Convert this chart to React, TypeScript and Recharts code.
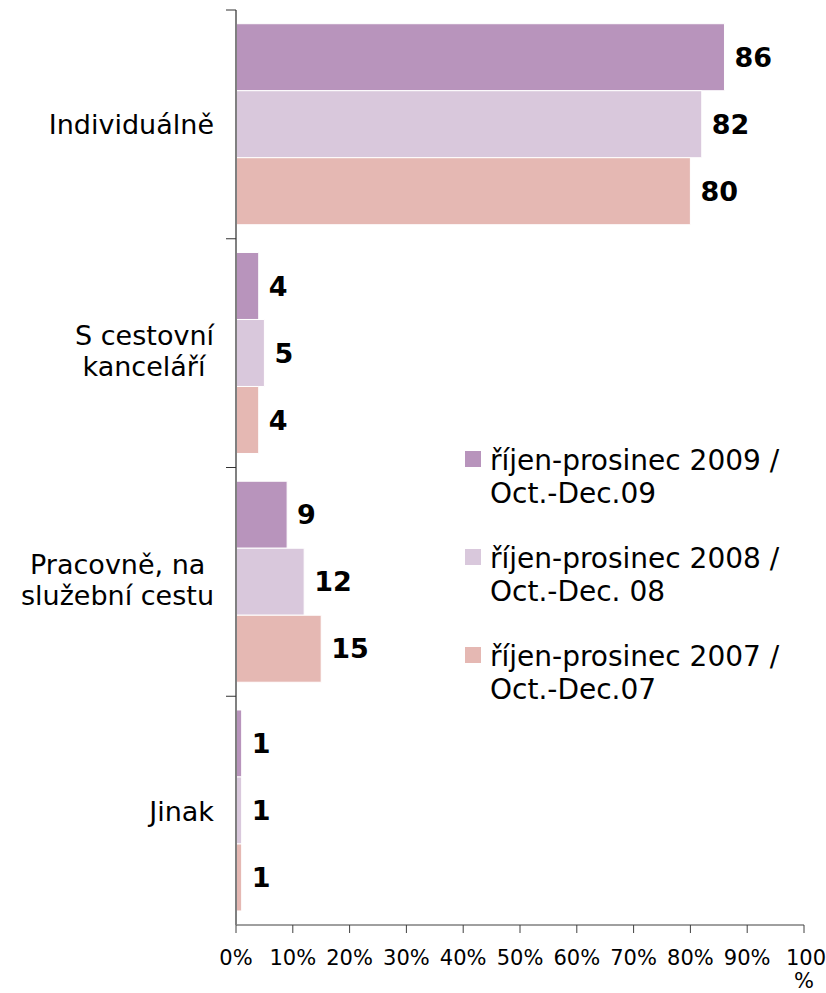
import { Bar, BarChart, LabelList, Legend, XAxis, YAxis } from "recharts";

const categories = ["Individuálně", "S cestovní kanceláří", "Pracovně, na služební cestu", "Jinak"];
const categoryLines: Record<string, string[]> = {
  "Individuálně": ["Individuálně"],
  "S cestovní kanceláří": ["S cestovní", "kanceláří\u00a0"],
  "Pracovně, na služební cestu": ["Pracovně, na\u00a0", "služební cestu"],
  "Jinak": ["Jinak"],
};

const oct_dec_2009 = [86, 4, 9, 1];
const oct_dec_2008 = [82, 5, 12, 1];
const oct_dec_2007 = [80, 4, 15, 1];

const seriesKeys = ["y2009", "y2008", "y2007"];
const seriesColors = ["#b894bc", "#d9c8dc", "#e5b8b3"];
const seriesNames = [
  ["říjen-prosinec 2009 /", "Oct.-Dec.09"],
  ["říjen-prosinec 2008 /", "Oct.-Dec. 08"],
  ["říjen-prosinec 2007 /", "Oct.-Dec.07"],
];

const xTicks = [0, 10, 20, 30, 40, 50, 60, 70, 80, 90, 100];

const W = 826;
const H = 993;
const MARGIN = { top: 10, right: 22, bottom: 0, left: 0 };
const X_AXIS_H = 68;
const BAND = (H - MARGIN.top - X_AXIS_H) / categories.length;
const FONT = "'DejaVu Sans', Verdana, sans-serif";

const data = categories.map((name, i) => ({
  name,
  y2009: oct_dec_2009[i],
  y2008: oct_dec_2008[i],
  y2007: oct_dec_2007[i],
}));

function CategoryTick({ x, y, payload }: any) {
  const lines = categoryLines[payload.value] ?? [payload.value];
  const baselines = lines.length === 1 ? [10] : [-8, 23];
  return (
    <g>
      <line x1={x - 10} x2={x} y1={y - BAND / 2} y2={y - BAND / 2} stroke="#333" strokeWidth={1} />
      <text textAnchor="end" fontFamily={FONT} fontSize={27} fill="#000">
        {lines.map((l, i) => (
          <tspan key={i} x={x - 22} y={y + baselines[i]}>
            {l}
          </tspan>
        ))}
      </text>
    </g>
  );
}

function PercentTick({ x, y, payload }: any) {
  const v = payload.value;
  if (v === 100) {
    return (
      <text textAnchor="middle" fontFamily={FONT} fontSize={21} fill="#000">
        <tspan x={x + 2} y={y + 32}>100</tspan>
        <tspan x={x} y={y + 55}>%</tspan>
      </text>
    );
  }
  return (
    <text x={x} y={y + 32} textAnchor="middle" fontFamily={FONT} fontSize={21} fill="#000">
      {v}%
    </text>
  );
}

function LegendBox() {
  return (
    <div style={{ fontFamily: FONT, fontSize: 28, lineHeight: "33px", color: "#000" }}>
      {seriesNames.map((lines, i) => (
        <div key={i} style={{ position: "relative", paddingLeft: 27, marginBottom: i < 2 ? 32 : 0 }}>
          <span
            style={{
              position: "absolute",
              left: 2,
              top: 7,
              width: 16,
              height: 16,
              background: seriesColors[i],
            }}
          />
          {lines.map((l, j) => (
            <div key={j} style={{ whiteSpace: "nowrap" }}>{l}</div>
          ))}
        </div>
      ))}
    </div>
  );
}

export default function App() {
  return (
    <div style={{ position: "absolute", left: 0, top: 0, width: W, height: H, background: "#fff" }}>
      <BarChart
        width={W}
        height={H}
        data={data}
        layout="vertical"
        margin={MARGIN}
        barCategoryGap="6%"
        barGap={0}
      >
        <XAxis
          type="number"
          domain={[0, 100]}
          ticks={xTicks}
          interval={0}
          height={X_AXIS_H}
          axisLine={{ stroke: "#404040" }}
          tickLine={{ stroke: "#404040" }}
          tickSize={8}
          tickMargin={0}
          tick={<PercentTick />}
        />
        <YAxis
          type="category"
          dataKey="name"
          width={236}
          axisLine={{ stroke: "#808080", strokeWidth: 2 }}
          tickLine={false}
          tickSize={0}
          tickMargin={0}
          interval={0}
          tick={<CategoryTick />}
        />
        <Legend
          layout="vertical"
          align="center"
          verticalAlign="middle"
          wrapperStyle={{ left: 463, top: 444, width: 360 }}
          content={() => <LegendBox />}
        />
        {seriesKeys.map((k, i) => (
          <Bar key={k} dataKey={k} fill={seriesColors[i]} stroke="#fff" strokeWidth={1} isAnimationActive={false}>
            <LabelList
              dataKey={k}
              position="right"
              offset={10}
              fill="#000"
              fontFamily={FONT}
              fontSize={27}
              fontWeight="bold"
            />
          </Bar>
        ))}
      </BarChart>
    </div>
  );
}
